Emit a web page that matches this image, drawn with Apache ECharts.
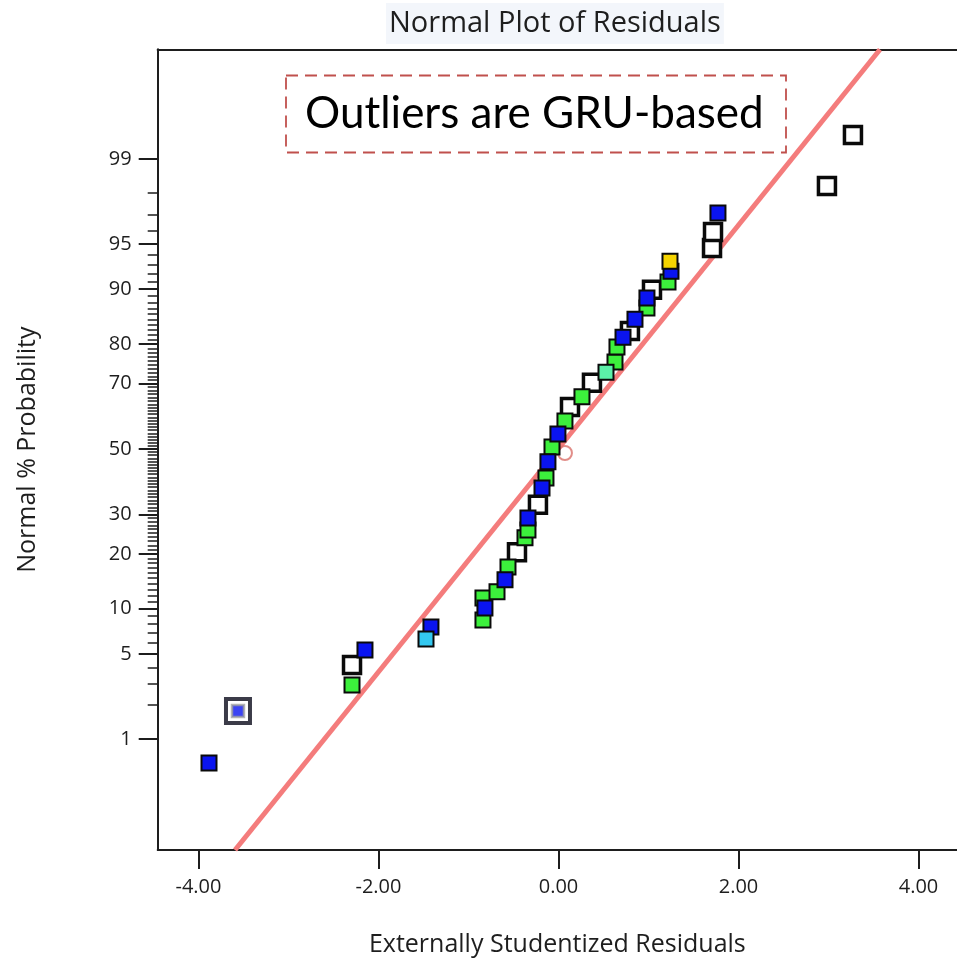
<!DOCTYPE html>
<html>
<head>
<meta charset="utf-8">
<script src="https://cdn.jsdelivr.net/npm/echarts@6/dist/echarts.min.js"></script>
<style>
  html, body { margin: 0; padding: 0; background: #ffffff; }
  #chart { width: 957px; height: 962px; }
</style>
</head>
<body>
<div id="chart"></div>
<script>
// Externally studentized residual vs. normal % probability, grouped by marker colour
const bluePoints = [
  [-3.883, 0.59], [-2.150, 5.35], [-1.417, 7.68], [-0.817, 10.1], [-0.594, 14.7],
  [-0.339, 29.0], [-0.183, 37.7], [-0.117, 45.9], [-0.006, 54.8], [0.717, 81.5],
  [0.850, 85.1], [0.983, 88.7], [1.250, 92.3], [1.772, 97.08]
];
const greenPoints = [
  [-2.294, 2.92], [-0.839, 8.52], [-0.839, 11.6], [-0.683, 12.6], [-0.561, 17.2],
  [-0.372, 23.8], [-0.339, 25.8], [-0.139, 40.8], [-0.072, 50.6], [0.072, 58.9],
  [0.261, 66.2], [0.628, 75.7], [0.650, 79.3], [0.983, 87.1], [1.217, 90.97]
];
const whitePoints = [
  [-2.294, 4.16], [-0.461, 20.4], [-0.228, 32.7], [0.128, 63.2], [0.372, 70.2],
  [0.794, 82.8], [1.039, 89.9], [1.706, 94.65], [1.717, 95.9], [2.983, 98.25],
  [3.272, 99.41]
];
const cyanPoints = [[-1.472, 6.38]];
const mintPoints = [[0.528, 73.1]];
const yellowPoints = [[1.239, 93.4]];
const flaggedPoints = [[-3.561, 1.78]];
const circledPoints = [[0.072, 48.7]];

// Reference line end points (residual, % probability)
const fitLineResiduals = [-3.594, 3.572];
const fitLinePercent = [0.065, 99.932];

// Axis ticks
const probLabelTicks = [1, 5, 10, 20, 30, 50, 70, 80, 90, 95, 99];
const probMinorTicks = Array.from({ length: 99 }, (_, i) => i + 1);
const residualTicks = [-4, -2, 0, 2, 4];

// Inverse standard normal CDF (Acklam's rational approximation)
function probit(p) {
  const a = [-3.969683028665376e+01, 2.209460984245205e+02, -2.759285104469687e+02,
             1.383577518672690e+02, -3.066479806614716e+01, 2.506628277459239e+00];
  const b = [-5.447609879822406e+01, 1.615858368580409e+02, -1.556989798598866e+02,
             6.680131188771972e+01, -1.328068155288572e+01];
  const c = [-7.784894002430293e-03, -3.223964580411365e-01, -2.400758277161838e+00,
             -2.549732539343734e+00, 4.374664141464968e+00, 2.938163982698783e+00];
  const d = [7.784695709041462e-03, 3.224671290700398e-01, 2.445134137142996e+00,
             3.754408661907416e+00];
  const pl = 0.02425, ph = 1 - pl;
  let q, r;
  if (p < pl) {
    q = Math.sqrt(-2 * Math.log(p));
    return (((((c[0]*q+c[1])*q+c[2])*q+c[3])*q+c[4])*q+c[5]) / ((((d[0]*q+d[1])*q+d[2])*q+d[3])*q+1);
  }
  if (p <= ph) {
    q = p - 0.5; r = q * q;
    return (((((a[0]*r+a[1])*r+a[2])*r+a[3])*r+a[4])*r+a[5])*q / (((((b[0]*r+b[1])*r+b[2])*r+b[3])*r+b[4])*r+1);
  }
  q = Math.sqrt(-2 * Math.log(1 - p));
  return -(((((c[0]*q+c[1])*q+c[2])*q+c[3])*q+c[4])*q+c[5]) / ((((d[0]*q+d[1])*q+d[2])*q+d[3])*q+1);
}
const toZ = pct => probit(pct / 100);
const toPlot = pts => pts.map(([r, pct]) => [r, toZ(pct)]);

const zMin = -3.216, zMax = 3.205;
const rMin = -4.453, rMax = 4.428;
const majorZ = probLabelTicks.map(toZ);
const minorZ = probMinorTicks.map(toZ);

const FONT = 'Open Sans';
const INK = '#1e1e1e';

function squares(name, pts, fill, size, border) {
  return {
    name, type: 'scatter', data: toPlot(pts),
    symbol: 'rect', symbolSize: size,
    itemStyle: { color: fill, borderColor: '#0a0a0a', borderWidth: border, opacity: 1 },
    emphasis: { disabled: true }, silent: true, z: 5
  };
}

const chart = echarts.init(document.getElementById('chart'), null, { renderer: 'canvas' });
chart.setOption({
  animation: false,
  backgroundColor: '#ffffff',
  title: {
    text: 'Normal Plot of Residuals',
    left: 386, top: 3,
    padding: [6, 3, 6, 3],
    backgroundColor: '#f3f6fb',
    textStyle: { fontFamily: FONT, fontSize: 29, fontWeight: 'normal', color: INK }
  },
  grid: { left: 157.7, top: 49.3, right: 0, bottom: 112, containLabel: false },
  xAxis: [
    {
      type: 'value', position: 'bottom', min: rMin, max: rMax,
      axisLine: { show: true, onZero: false, lineStyle: { color: INK, width: 2 } },
      axisTick: { show: true, customValues: residualTicks, length: 19, lineStyle: { color: INK, width: 2 } },
      axisLabel: { customValues: residualTicks, formatter: v => v.toFixed(2), margin: 27,
                   fontFamily: FONT, fontSize: 20, color: INK },
      splitLine: { show: false },
      name: 'Externally Studentized Residuals', nameLocation: 'middle', nameGap: 82,
      nameTextStyle: { fontFamily: FONT, fontSize: 25, color: INK }
    },
    {
      type: 'value', position: 'top', min: rMin, max: rMax,
      axisLine: { show: true, onZero: false, lineStyle: { color: INK, width: 2 } },
      axisTick: { show: false }, axisLabel: { show: false }, splitLine: { show: false }
    }
  ],
  yAxis: [
    {
      type: 'value', position: 'left', min: zMin, max: zMax,
      axisLine: { show: true, onZero: false, lineStyle: { color: INK, width: 2 } },
      axisTick: { show: true, customValues: majorZ, length: 19, lineStyle: { color: INK, width: 2 } },
      axisLabel: {
        customValues: majorZ, margin: 26, fontFamily: FONT, fontSize: 20, color: INK,
        formatter: v => {
          const i = majorZ.findIndex(z => Math.abs(z - v) < 1e-6);
          return i >= 0 ? String(probLabelTicks[i]) : '';
        }
      },
      splitLine: { show: false },
      name: 'Normal % Probability', nameLocation: 'middle', nameGap: 117, nameRotate: 90,
      nameTextStyle: { fontFamily: FONT, fontSize: 25, color: INK }
    },
    {
      type: 'value', position: 'left', min: zMin, max: zMax,
      axisLine: { show: false, onZero: false },
      axisTick: { show: true, customValues: minorZ, length: 10, lineStyle: { color: INK, width: 1.5 } },
      axisLabel: { show: false }, splitLine: { show: false }
    }
  ],
  graphic: [
    {
      type: 'rect', z: 20,
      shape: { x: 286, y: 75.5, width: 500, height: 77 },
      style: { fill: 'rgba(255,255,255,0)', stroke: '#c0504d', lineWidth: 1.8, lineDash: [12, 7] }
    },
    {
      type: 'text', z: 21,
      style: { text: 'Outliers are GRU-based', x: 305, y: 114, verticalAlign: 'middle',
               font: '44px Lato', fill: '#000000' }
    }
  ],
  series: [
    {
      name: 'Reference line', type: 'line', xAxisIndex: 0, yAxisIndex: 0,
      data: fitLineResiduals.map((r, i) => [r, toZ(fitLinePercent[i])]),
      symbol: 'none', lineStyle: { color: '#f47c7c', width: 5 }, silent: true, z: 2
    },
    {
      name: 'Circled', type: 'scatter', data: toPlot(circledPoints),
      symbol: 'circle', symbolSize: 14,
      itemStyle: { color: 'rgba(255,255,255,0)', borderColor: '#d9706a', borderWidth: 2 },
      silent: true, z: 3
    },
    squares('White', whitePoints, '#ffffff', 17, 3.5),
    squares('Green', greenPoints, '#3cf03c', 15, 2),
    squares('Blue', bluePoints, '#0a14f0', 15, 2),
    squares('Cyan', cyanPoints, '#33c8f0', 15, 2),
    squares('Mint', mintPoints, '#5cf0a8', 15, 2),
    squares('Yellow', yellowPoints, '#f5d400', 15, 2),
    {
      name: 'Flagged outer', type: 'scatter', data: toPlot(flaggedPoints),
      symbol: 'rect', symbolSize: 24,
      itemStyle: { color: '#ffffff', borderColor: '#0a0a1a', borderWidth: 4 },
      silent: true, z: 6
    },
    {
      name: 'Flagged inner', type: 'scatter', data: toPlot(flaggedPoints),
      symbol: 'rect', symbolSize: 12,
      itemStyle: { color: '#0a14f0', borderColor: '#a0a0a0', borderWidth: 2.5 },
      silent: true, z: 7
    }
  ]
});
</script>
</body>
</html>
